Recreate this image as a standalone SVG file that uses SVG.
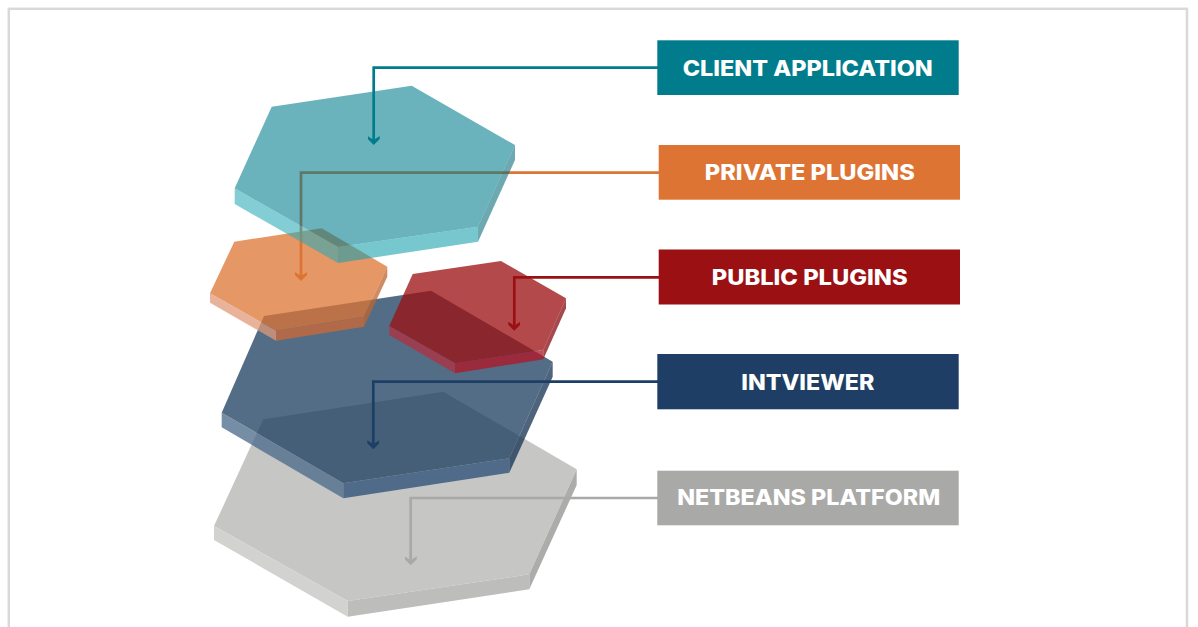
<svg xmlns="http://www.w3.org/2000/svg" width="1198" height="627" viewBox="0 0 1198 627">
<style>
.lbl{font-family:"Inter","Liberation Sans",sans-serif;font-weight:800;font-size:21px;fill:#fff;text-anchor:middle}
.c{fill:none;stroke-width:2.7}
</style>
<defs>
<marker id="aT" viewBox="0 0 9 12" refX="4" refY="6" markerWidth="9" markerHeight="12" markerUnits="userSpaceOnUse" orient="auto"><path d="M0 0 4 6 0 12H3L9 6 3 0Z" fill="#007c8c"/></marker>
<marker id="aO" viewBox="0 0 9 12" refX="4" refY="6" markerWidth="9" markerHeight="12" markerUnits="userSpaceOnUse" orient="auto"><path d="M0 0 4 6 0 12H3L9 6 3 0Z" fill="#dd7433"/></marker>
<marker id="aR" viewBox="0 0 9 12" refX="4" refY="6" markerWidth="9" markerHeight="12" markerUnits="userSpaceOnUse" orient="auto"><path d="M0 0 4 6 0 12H3L9 6 3 0Z" fill="#9b1013"/></marker>
<marker id="aB" viewBox="0 0 9 12" refX="4" refY="6" markerWidth="9" markerHeight="12" markerUnits="userSpaceOnUse" orient="auto"><path d="M0 0 4 6 0 12H3L9 6 3 0Z" fill="#1d3f66"/></marker>
<marker id="aG" viewBox="0 0 9 12" refX="4" refY="6" markerWidth="9" markerHeight="12" markerUnits="userSpaceOnUse" orient="auto"><path d="M0 0 4 6 0 12H3L9 6 3 0Z" fill="#a9a9a7"/></marker>
</defs>
<rect x="8.800" y="8.800" width="1178.200" height="640" fill="#fff" stroke="#d9d9d9" stroke-width="2.500"/>
<g id="node-netbeans">
<path d="M263.300 419.300 443.300 391.700 576.700 469.300 529.300 574.300 347.700 601 214 526Z" fill="#c6c6c4"/>
<path d="M214 526 347.700 601V616.700L214 540Z" fill="#d2d3d0"/>
<path d="M347.700 601 529.300 574.300V589.300L347.700 616.700Z" fill="#bdbdbb"/>
<path d="M529.300 574.300 576.700 469.300V485L529.300 589.300Z" fill="#acacaa"/>
</g>
<g id="node-intviewer" fill-opacity=".76">
<path d="M264 316 431 290.700 552.700 361.700 509.300 458.300 343.300 483.300 221.700 412.700Z" fill="#1d3f60"/>
<path d="M221.700 412.700 343.300 483.300V498.300L221.700 427.300Z" fill="#4a6a8a"/>
<path d="M343.300 483.300 509.300 458.300V472.700L343.300 498.300Z" fill="#2a4f76"/>
<path d="M509.300 458.300 552.700 361.700V376.700L509.300 472.700Z" fill="#163354"/>
</g>
<g id="node-public" fill-opacity=".76">
<path d="M412.700 274 501 261 566 298.300 543.300 350 455 363.300 389.300 326Z" fill="#9b1013"/>
<path d="M389.300 326 455 363.300V373.300L389.300 335Z" fill="#b03040"/>
<path d="M455 363.300 543.300 350V359.300L455 373.300Z" fill="#b01525"/>
<path d="M543.300 350 566 298.300V308.300L543.300 359.300Z" fill="#8a0f14"/>
</g>
<g id="node-private" fill-opacity=".75">
<path d="M234.300 241.700 321.700 228.300 387.300 266.700 364 316.700 276 330.700 210 293.300Z" fill="#dd7433"/>
<path d="M210 293.300 276 330.700V340.700L210 302.700Z" fill="#e09a78"/>
<path d="M276 330.700 364 316.700V326.700L276 340.700Z" fill="#cf6a35"/>
<path d="M364 316.700 387.300 266.700V276.700L364 326.700Z" fill="#bf6630"/>
</g>
<g id="connectors">
<path class="c" stroke="#007c8c" marker-end="url(#aT)" d="M658 67.700H373.700V140"/>
<path class="c" stroke="#dd7433" marker-end="url(#aO)" d="M659 172.700H301V276"/>
<path class="c" stroke="#9b1013" marker-end="url(#aR)" d="M659 277.300H514.300V325.700"/>
<path class="c" stroke="#1d3f66" marker-end="url(#aB)" d="M658 381.700H373.300V444.300"/>
<path class="c" stroke="#a9a9a7" marker-end="url(#aG)" d="M658 498H410.700V560.300"/>
</g>
<g id="node-client-hex" fill-opacity=".58">
<path d="M271.700 106.700 411.700 85.700 515 145 478 226.700 338 247 234.700 188.300Z" fill="#007c8c"/>
<path d="M234.700 188.300 338 247V263L234.700 204Z" fill="#2aa9b5"/>
<path d="M338 247 478 226.700V241.700L338 263Z" fill="#149eac"/>
<path d="M478 226.700 515 145V160L478 241.700Z" fill="#056b78"/>
</g>
<g id="label-client"><rect x="657.300" y="40.300" width="301.400" height="54.700" fill="#007c8c"/><text class="lbl" x="807.700" y="75.500" textLength="250" lengthAdjust="spacingAndGlyphs">CLIENT APPLICATION</text></g>
<g id="label-private"><rect x="658.700" y="145" width="301.300" height="54.700" fill="#dd7433"/><text class="lbl" x="809.800" y="180.200" textLength="210" lengthAdjust="spacingAndGlyphs">PRIVATE PLUGINS</text></g>
<g id="label-public"><rect x="658.700" y="249.500" width="301.300" height="55" fill="#9b1013"/><text class="lbl" x="809.700" y="284.800" textLength="196" lengthAdjust="spacingAndGlyphs">PUBLIC PLUGINS</text></g>
<g id="label-intviewer"><rect x="657.300" y="354" width="301.400" height="55.300" fill="#1e3e65"/><text class="lbl" x="807.800" y="390.200" textLength="133" lengthAdjust="spacingAndGlyphs">INTVIEWER</text></g>
<g id="label-netbeans"><rect x="657.300" y="470.700" width="301.400" height="54.600" fill="#a9a9a7"/><text class="lbl" x="808.700" y="505.200" textLength="263" lengthAdjust="spacingAndGlyphs">NETBEANS PLATFORM</text></g>
</svg>
